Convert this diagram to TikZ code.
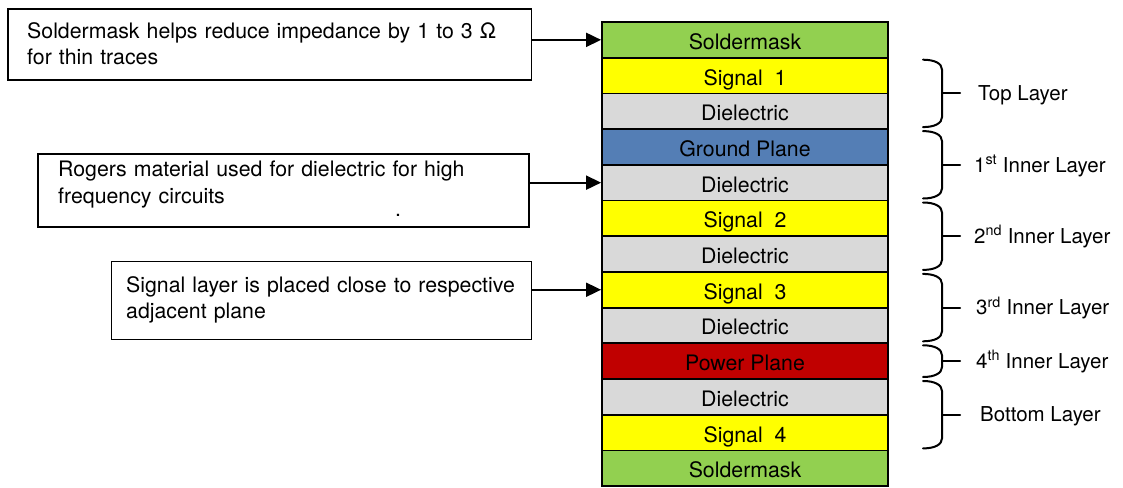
\documentclass[tikz,border=0pt]{standalone}
\usepackage{fontspec}
\setmainfont{TeX Gyre Heros}
\usetikzlibrary{arrows.meta}
\definecolor{maskgreen}{RGB}{146,208,80}
\definecolor{sigyellow}{RGB}{255,255,0}
\definecolor{dielgray}{RGB}{217,217,217}
\definecolor{gndblue}{RGB}{84,126,181}
\definecolor{pwrred}{RGB}{192,0,0}
\begin{document}
\begin{tikzpicture}[x=1pt,y=-1pt,
  layer/.style={draw=black,line width=1.8pt,minimum width=286pt,minimum height=35.7pt,
    inner sep=0pt,text height=19pt,text depth=0pt,font=\fontsize{21.3}{25}\selectfont},
  notebox/.style={draw=black,line width=1.6pt,anchor=north west,inner sep=0pt},
  notetext/.style={anchor=base west,inner sep=0pt,text width=480pt,align=left},
  arr/.style={line width=1.8pt,-{Triangle[length=15pt,width=14pt]}},
  brace/.style={line width=2pt,line cap=round},
  tag/.style={anchor=base west,inner sep=0pt,font=\fontsize{20.5}{24}\selectfont}]
\useasboundingbox (0,0) rectangle (1123,487);

% layer stack
\node[layer,fill=maskgreen] (r1)  at (745,39.85)  {Soldermask};
\node[layer,fill=sigyellow] (r2)  at (745,75.55)  {Signal~~1};
\node[layer,fill=dielgray]  (r3)  at (745,111.25) {Dielectric};
\node[layer,fill=gndblue]   (r4)  at (745,146.95) {Ground Plane};
\node[layer,fill=dielgray]  (r5)  at (745,182.65) {Dielectric};
\node[layer,fill=sigyellow] (r6)  at (745,218.35) {Signal~~2};
\node[layer,fill=dielgray]  (r7)  at (745,254.05) {Dielectric};
\node[layer,fill=sigyellow] (r8)  at (745,289.75) {Signal~~3};
\node[layer,fill=dielgray]  (r9)  at (745,325.45) {Dielectric};
\node[layer,fill=pwrred]    (r10) at (745,361.15) {Power Plane};
\node[layer,fill=dielgray]  (r11) at (745,396.85) {Dielectric};
\node[layer,fill=sigyellow] (r12) at (745,432.55) {Signal~~4};
\node[layer,fill=maskgreen] (r13) at (745,468.25) {Soldermask};

% callout boxes
\node[notebox,minimum width=523.4pt,minimum height=71pt] (b1) at (7.3,8.3) {};
\node[notetext,font=\fontsize{21.3}{26}\selectfont] (t1) at (27,38)
  {Soldermask helps reduce impedance by 1 to 3 Ω\\for thin traces};
\node[notebox,minimum width=490.7pt,minimum height=72.7pt] (b2) at (37.3,153.3) {};
\node[notetext,font=\fontsize{21.3}{27}\selectfont] (t2) at (58,176)
  {Rogers material used for dielectric for high\\frequency circuits};
\node[inner sep=0pt,anchor=base,font=\fontsize{21.3}{22}\selectfont] (dot) at (398,216) {.};
\node[notebox,minimum width=420pt,minimum height=77.8pt] (b3) at (110.7,260.7) {};
\node[notetext,font=\fontsize{21.3}{26}\selectfont] (t3) at (126,292.7)
  {Signal layer is placed close to respective\\adjacent plane};

% callout arrows
\draw[arr] (b1.east |- r1.west) -- (r1.west);
\draw[arr] (b2.east |- r5.west) -- (r5.west);
\draw[arr] (b3.east |- r8.west) -- (r8.west);

% braces grouping the layers
\foreach \t/\b in {57.7/129.1, 129.1/200.5, 200.5/271.9, 271.9/343.3, 343.3/379, 379/450.4}{
  \pgfmathsetmacro\m{(\t+\b)/2}
  \draw[brace] (923,\t+2) .. controls (935,\t+2) and (942,\t+6) .. (942,\t+12)
    -- (942,\b-12) .. controls (942,\b-6) and (935,\b-2) .. (923,\b-2);
  \draw[brace] (942,\m) -- (960,\m);
}

% layer names
\node[tag] (l1) at (978,100.6) {Top Layer};
\node[tag] (l2) at (974,172)   {1\textsuperscript{st} Inner Layer};
\node[tag] (l3) at (974,243.4) {2\textsuperscript{nd} Inner Layer};
\node[tag] (l4) at (976,314.8) {3\textsuperscript{rd} Inner Layer};
\node[tag] (l5) at (976,368.3) {4\textsuperscript{th} Inner Layer};
\node[tag] (l6) at (980,421.9) {Bottom Layer};
\end{tikzpicture}
\end{document}
